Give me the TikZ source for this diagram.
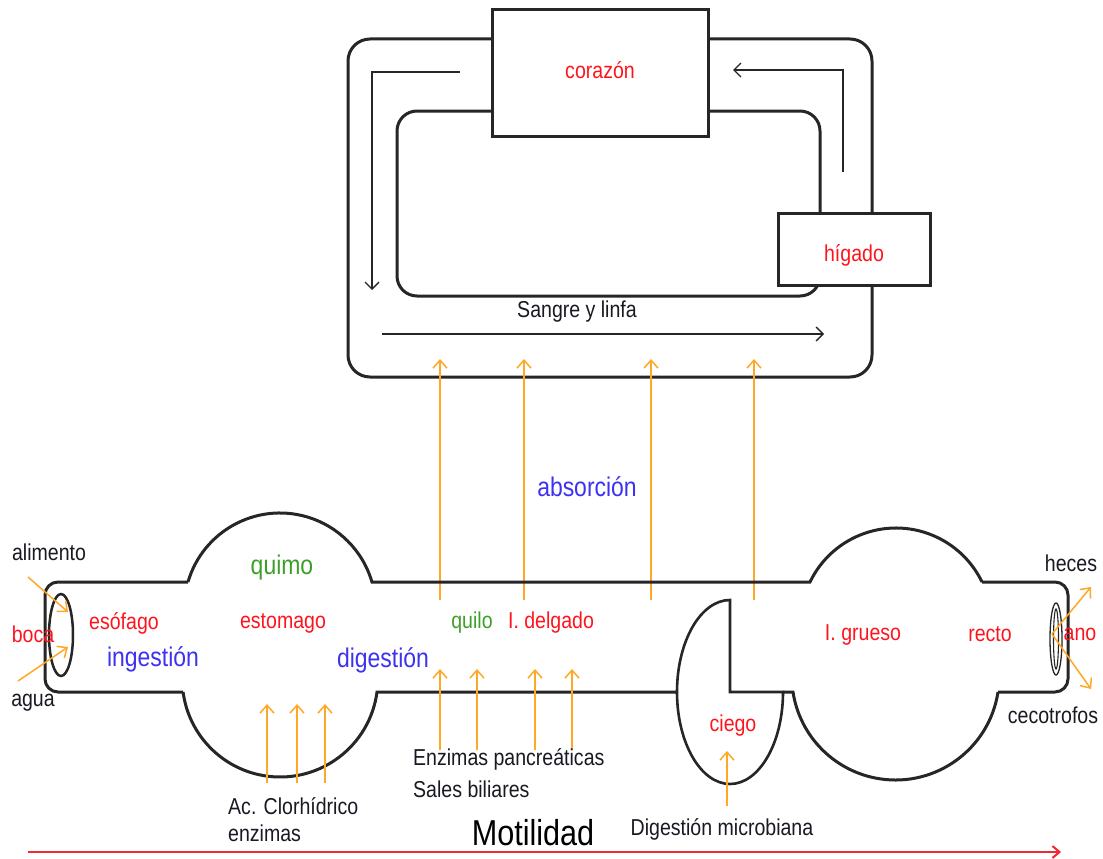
\documentclass[tikz,border=0pt]{standalone}
\usepackage{fontspec}
\setmainfont{Liberation Sans}[FakeStretch=0.85]
\usetikzlibrary{arrows.meta}
\definecolor{ink}{RGB}{25,25,35}
\definecolor{lblred}{RGB}{255,20,30}
\definecolor{lblblue}{RGB}{60,50,240}
\definecolor{lblgreen}{RGB}{60,160,40}
\definecolor{orng}{RGB}{255,168,40}
\definecolor{motred}{RGB}{240,40,50}
\newcommand\fsz[1]{\fontsize{#1}{#1}\selectfont}
\tikzset{
  wall/.style={line width=3pt, draw=black!85},
  organ/.style={wall, fill=white, inner sep=0pt},
  flow/.style={line width=1.3pt, draw=black!85, -{Straight Barb[length=7pt,width=14pt,line width=1.3pt]}},
  oarr/.style={line width=1.5pt, draw=orng, -{Straight Barb[length=8pt,width=14pt,line width=1.5pt]}},
  motarr/.style={line width=2pt, draw=motred, -{Straight Barb[length=7pt,width=12pt,line width=2pt]}},
  txt/.style={inner sep=0pt, text=ink, font=\fsz{23}},
  rtxt/.style={inner sep=0pt, text=lblred, font=\fsz{23}},
  gtxt/.style={inner sep=0pt, text=lblgreen, font=\fsz{23}},
  btxt/.style={inner sep=0pt, text=lblblue, font=\fsz{27}},
}
\begin{document}
\begin{tikzpicture}[x=1pt,y=-1pt]
\useasboundingbox[fill=white] (0,0) rectangle (1103,859);

% ---------- circulation ----------
\draw[wall, rounded corners=22pt] (348,39) rectangle (872,377);
\draw[wall, rounded corners=20pt] (397,111) rectangle (820,296);
\node[organ, minimum width=216pt, minimum height=126pt] (heart) at (600,73) {};
\node[rtxt] (heartlbl) at (600,70) {corazón};
\node[organ, minimum width=152pt, minimum height=72pt] (liver) at (854,249) {};
\node[rtxt] (liverlbl) at (854,255) {hígado};

\coordinate (la0) at (460,72); \coordinate (la1) at (372,72); \coordinate (la2) at (372,290);
\draw[flow] (la0) -- (la1) -- (la2);
\coordinate (ra0) at (843,172); \coordinate (ra1) at (843,70); \coordinate (ra2) at (733,70);
\draw[flow] (ra0) -- (ra1) -- (ra2);
\coordinate (ba0) at (382,334); \coordinate (ba1) at (824,334);
\draw[flow] (ba0) -- (ba1);
\node[txt] (sangre) at (577,312) {Sangre y linfa};

% ---------- absorption ----------
\foreach \x/\n in {440/a,524/b,651/c,754/d}{
  \coordinate (abs\n0) at (\x,600); \coordinate (abs\n1) at (\x,359);
  \draw[oarr] (abs\n0) -- (abs\n1);
}
\node[btxt] (absorcion) at (587,487) {absorción};

% ---------- digestive tube ----------
\draw[wall, rounded corners=13pt] (188,582) -- (45,582) -- (45,692) -- (183,692);
\draw[wall] (188,582) arc[start angle=196.24, end angle=343.76, radius=95.8]
   -- (810,582) arc[start angle=205.76, end angle=334.24, radius=95.5];
\draw[wall, rounded corners=13pt] (982,582) -- (1068,582) -- (1068,692) -- (998,692);
\draw[wall] (998,692) arc[start angle=8.71, end angle=171.29, radius=103.7] -- (783,692);
\draw[wall, line width=2.6pt] (730,600) -- (730,692) -- (783,692)
   arc[start angle=0, end angle=270, x radius=53, y radius=92] -- cycle;
\draw[wall] (677,692) -- (377,692) arc[start angle=7.52, end angle=172.48, radius=97.8];

% mouth and anus
\draw[line width=2.5pt, black!85] (61,635) ellipse[x radius=12, y radius=41];
\draw[line width=1.3pt, black!85] (1056,639) ellipse[x radius=6, y radius=36];
\draw[line width=1.1pt, black!85] (1056,639) ellipse[x radius=2.5, y radius=30];

% input / output arrows
\coordinate (al0) at (28,577); \coordinate (al1) at (68,612);
\coordinate (ag0) at (18,681); \coordinate (ag1) at (68,647);
\draw[oarr] (al0) -- (al1);
\draw[oarr] (ag0) -- (ag1);
\coordinate (an0) at (1052,634); \coordinate (an1) at (1091,587); \coordinate (an2) at (1091,689);
\draw[oarr] (an0) -- (an1);
\draw[oarr] (an0) -- (an2);

% secretion arrows
\foreach \x/\n in {267/a,297/b,325/c}{
  \coordinate (st\n0) at (\x,783); \coordinate (st\n1) at (\x,704);
  \draw[oarr] (st\n0) -- (st\n1);
}
\foreach \x/\n in {440/a,477/b,535/c,572/d}{
  \coordinate (si\n0) at (\x,750); \coordinate (si\n1) at (\x,669);
  \draw[oarr] (si\n0) -- (si\n1);
}
\coordinate (ci0) at (727,806); \coordinate (ci1) at (727,751);
\draw[oarr] (ci0) -- (ci1);

% motility
\coordinate (mo0) at (28,852); \coordinate (mo1) at (1061,852);
\draw[motarr] (mo0) -- (mo1);
\node[inner sep=0pt, text=black, font=\fsz{36}] (motil) at (533,833) {Motilidad};

% labels
\node[txt] (alimento) at (49,552) {alimento};
\node[rtxt] (boca) at (33,634) {boca};
\node[txt] (agua) at (33,703) {agua};
\node[rtxt] (esofago) at (124,623) {esófago};
\node[btxt] (ingestion) at (153,659) {ingestión};
\node[inner sep=0pt, text=lblgreen, font=\fsz{27}] (quimo) at (282,568) {quimo};
\node[rtxt] (estomago) at (283,623) {estomago};
\node[btxt] (digestion) at (383,660) {digestión};
\node[gtxt] (quilo) at (472,623) {quilo};
\node[rtxt] (idelgado) at (551,623) {I. delgado};
\node[rtxt] (igrueso) at (863,635) {I. grueso};
\node[rtxt] (recto) at (990,634) {recto};
\node[rtxt] (ano) at (1080,634) {ano};
\node[txt] (heces) at (1071,563) {heces};
\node[txt] (cecotrofos) at (1053,715) {cecotrofos};
\node[rtxt] (ciego) at (733,726) {ciego};
\node[txt, anchor=west] (acclor) at (228,806) {Ac. Clorhídrico};
\node[txt, anchor=west] (enzimas) at (228,833) {enzimas};
\node[txt, anchor=west] (enzpanc) at (413,759) {Enzimas pancreáticas};
\node[txt, anchor=west] (sales) at (413,789) {Sales biliares};
\node[txt] (digmicro) at (722,829) {Digestión microbiana};
\end{tikzpicture}
\end{document}
